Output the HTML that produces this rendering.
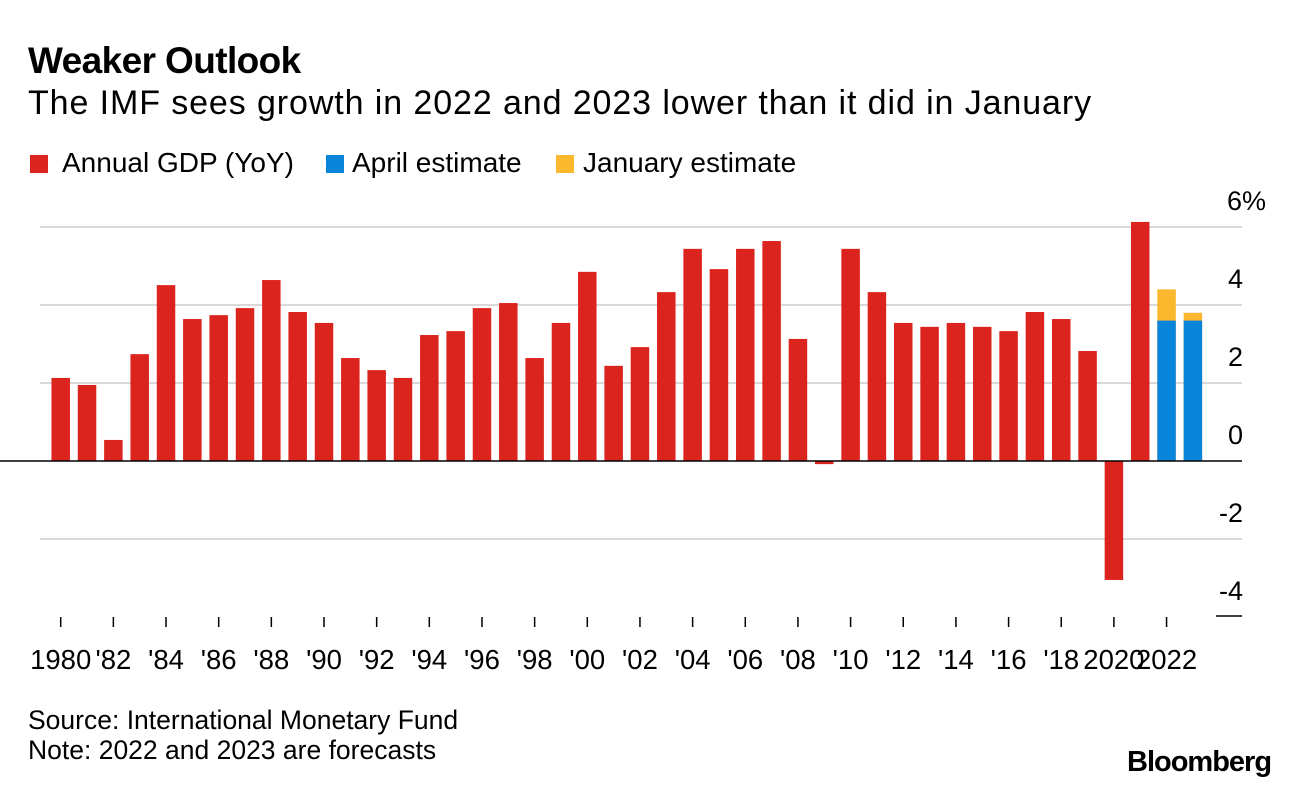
<!DOCTYPE html>
<html><head><meta charset="utf-8"><style>
body{margin:0;background:#fff;width:1296px;height:790px;overflow:hidden;font-family:"Liberation Sans",Arial,sans-serif;color:#000}
.t{position:absolute;white-space:nowrap}
.sq{position:absolute;width:18px;height:18px;top:155px}
</style></head><body>
<div class="t" style="left:28px;top:40px;font-size:37px;font-weight:bold;letter-spacing:-0.6px">Weaker Outlook</div>
<div class="t" style="left:28px;top:84px;font-size:34px;letter-spacing:0.9px">The IMF sees growth in 2022 and 2023 lower than it did in January</div>
<div>
<div><div class="sq" style="left:30px;background:#dc241f"></div><div class="t" style="left:62px;top:147px;font-size:28px">Annual GDP (YoY)</div></div>
<div><div class="sq" style="left:326px;background:#0a85dc"></div><div class="t" style="left:352px;top:147px;font-size:28px">April estimate</div></div>
<div><div class="sq" style="left:556px;background:#fbb72d"></div><div class="t" style="left:583px;top:147px;font-size:28px">January estimate</div></div>
</div>
<svg id="chart" width="1296" height="790" style="position:absolute;left:0;top:0"></svg>
<div class="t" style="left:28px;top:705px;font-size:26.5px;line-height:30px">Source: International Monetary Fund<br>Note: 2022 and 2023 are forecasts</div>
<div class="t" style="left:1127px;top:746px;font-size:29px;font-weight:bold;letter-spacing:-1px">Bloomberg</div>
<script>
const years=[1980,1981,1982,1983,1984,1985,1986,1987,1988,1989,1990,1991,1992,1993,1994,1995,1996,1997,1998,1999,2000,2001,2002,2003,2004,2005,2006,2007,2008,2009,2010,2011,2012,2013,2014,2015,2016,2017,2018,2019,2020,2021];
const gdp=[2.13,1.95,0.54,2.74,4.51,3.64,3.74,3.92,4.64,3.82,3.54,2.64,2.33,2.13,3.23,3.33,3.92,4.05,2.64,3.54,4.85,2.44,2.92,4.33,5.44,4.92,5.44,5.64,3.13,-0.08,5.44,4.33,3.54,3.44,3.54,3.44,3.33,3.82,3.64,2.82,-3.05,6.13];
const forecastYears=[2022,2023];
const aprilEst=[3.6,3.6];
const janEst=[4.4,3.8];
const yTicks=[6,4,2,0,-2,-4];
const yTickLabels=["6%","4","2","0","-2","-4"];
const xTickYears=[1980,1982,1984,1986,1988,1990,1992,1994,1996,1998,2000,2002,2004,2006,2008,2010,2012,2014,2016,2018,2020,2022];
const xTickLabels=["1980","'82","'84","'86","'88","'90","'92","'94","'96","'98","'00","'02","'04","'06","'08","'10","'12","'14","'16","'18","2020","2022"];
const NS="http://www.w3.org/2000/svg",svg=document.getElementById('chart');
const x=yr=>60.7+(yr-1980)*26.33;
const y=v=>461-v*39;
const bw=18.5;
function mk(tag,attrs,parent){const e=document.createElementNS(NS,tag);for(const k in attrs)e.setAttribute(k,attrs[k]);(parent||svg).appendChild(e);return e;}
yTicks.forEach((v,i)=>{
  if(v===-4){const l=mk('line',{x1:1216,x2:1242,y1:y(v)-1,y2:y(v)-1,stroke:'#000','stroke-width':1.5});
    
    }
  else if(v!==0){const l=mk('line',{x1:40,x2:1242,y1:y(v),y2:y(v),stroke:'#d9d9d9','stroke-width':2});
    
    }
  const t=mk('text',{x:1243,y:y(v)-17,'font-size':27,'text-anchor':'end','font-family':'Liberation Sans, Arial, sans-serif'});
  t.textContent=v===6?'6':yTickLabels[i];
  if(v===6){const s=mk('tspan',{},t);s.textContent='%';t.setAttribute('text-anchor','start');t.setAttribute('x',1227);}
  
  
});
years.forEach((yr,i)=>{const v=gdp[i];
  const r=mk('rect',{x:x(yr)-bw/2,y:Math.min(y(v),y(0)),width:bw,height:Math.abs(y(v)-y(0)),fill:'#dc241f'});
  
  
});
forecastYears.forEach((yr,i)=>{
  const j=mk('rect',{x:x(yr)-bw/2,y:y(janEst[i]),width:bw,height:y(0)-y(janEst[i]),fill:'#fbb72d'});
  
  
  const a=mk('rect',{x:x(yr)-bw/2,y:y(aprilEst[i]),width:bw,height:y(0)-y(aprilEst[i]),fill:'#0a85dc'});
  
  
});
const z=mk('line',{x1:0,x2:1242,y1:y(0),y2:y(0),stroke:'#000','stroke-width':1.5});


xTickYears.forEach((yr,i)=>{
  const tk=mk('line',{x1:x(yr),x2:x(yr),y1:617,y2:627,stroke:'#000','stroke-width':1.5});
  
  
  const t=mk('text',{x:x(yr),y:669,'font-size':27.5,'text-anchor':'middle','font-family':'Liberation Sans, Arial, sans-serif'});
  t.textContent=xTickLabels[i];
  
  
});
</script>
</body></html>
